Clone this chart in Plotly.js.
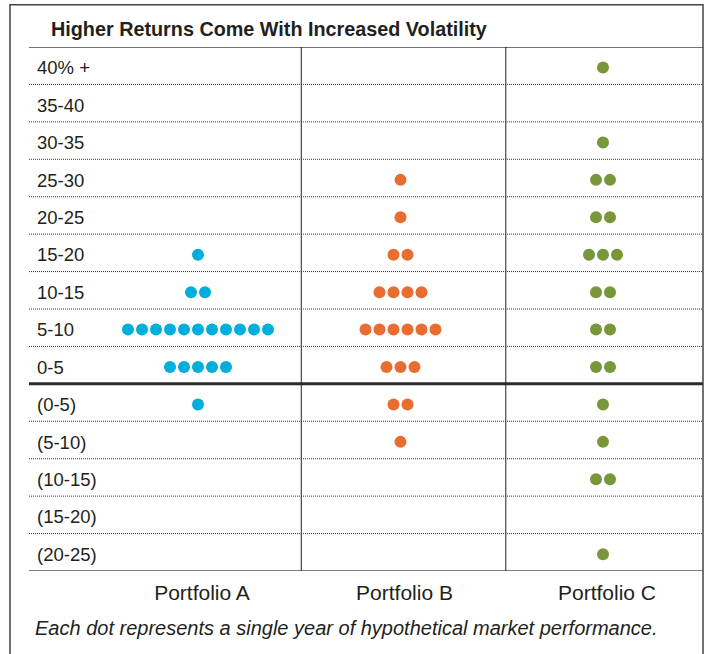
<!DOCTYPE html>
<html>
<head>
<meta charset="utf-8">
<script src="https://cdn.plot.ly/plotly-3.0.1.min.js"></script>
<style>html,body{margin:0;padding:0;background:#fff;}#chart{width:705px;height:654px;}</style>
</head>
<body>
<div id="chart"></div>
<script>
// ---- data ----
const rowLabels = ['40% +','35-40','30-35','25-30','20-25','15-20','10-15','5-10','0-5','(0-5)','(5-10)','(10-15)','(15-20)','(20-25)'];
const portfolios = ['Portfolio A','Portfolio B','Portfolio C'];
const countsA = [0,0,0,0,0,1,2,11,5,1,0,0,0,0];
const countsB = [0,0,0,1,1,2,4,6,3,2,1,0,0,0];
const countsC = [1,0,1,2,2,3,2,2,2,1,1,2,0,1];
const colors = ['#00AEDB','#E86D30','#78963A'];
const titleText = 'Higher Returns Come With Increased Volatility';
const footerText = 'Each dot represents a single year of hypothetical market performance.';

// ---- build ----
const FONT = 'Liberation Sans, Arial, Helvetica, sans-serif';
const allCounts = [countsA, countsB, countsC];
const unit = 202.5;          // pixels per column unit
const dotStep = 14/unit;     // spacing between dots, in column units
const dotDy = 0.05;
const traces = allCounts.map((counts, i) => {
  const xs = [], ys = [];
  counts.forEach((n, r) => {
    for (let k = 0; k < n; k++) {
      xs.push((i + 1) + (k - (n - 1) / 2) * dotStep);
      ys.push(r + dotDy);
    }
  });
  return {type:'scatter', mode:'markers', x:xs, y:ys, name:portfolios[i],
          marker:{size:12, color:colors[i], line:{width:0}}, hoverinfo:'skip', cliponaxis:false};
});

const shapes = [];
// row separators
for (let r = 0; r < rowLabels.length - 1; r++) {
  if (r === 8) {
    shapes.push({type:'line', xref:'paper', x0:0, x1:1, yref:'y', y0:r+0.5, y1:r+0.5,
                 line:{color:'#2b2b2b', width:3}});
  } else {
    shapes.push({type:'line', xref:'paper', x0:0, x1:1, yref:'y', y0:r+0.5, y1:r+0.5,
                 line:{color:'#333', width:1, dash:'1px,1px'}});
  }
}
// top (title underline) and bottom lines
shapes.push({type:'line', xref:'paper', x0:0, x1:1, yref:'y', y0:-0.5, y1:-0.5, line:{color:'#444', width:1.5}});
shapes.push({type:'line', xref:'paper', x0:0, x1:1, yref:'y', y0:13.5, y1:13.5, line:{color:'#555', width:1.5}});
// column dividers
[1.51, 2.52].forEach(xv => shapes.push({type:'line', xref:'x', x0:xv, x1:xv, yref:'y', y0:-0.5, y1:13.5,
  line:{color:'#222', width:1}}));
// outer frame
shapes.push({type:'rect', xref:'paper', x0:-0.0282, x1:1.0, yref:'paper', y0:-0.2, y1:1.0805,
  line:{color:'#444', width:1.5}, fillcolor:'rgba(0,0,0,0)'});

const annotations = rowLabels.map((t, r) => ({
  text:t, xref:'paper', x:0, xshift:6, xanchor:'left', yref:'y', y:r, yshift:-2, yanchor:'middle',
  showarrow:false, font:{family:FONT, size:18.5, color:'#231f20'}
}));
annotations.push({text:'<b>'+titleText+'</b>', xref:'paper', x:(49-29)/674, xanchor:'left',
  yref:'paper', y:(571-29)/524, yanchor:'middle', showarrow:false,
  font:{family:FONT, size:19.8, color:'#231f20'}});
annotations.push({text:'<i>'+footerText+'</i>', xref:'paper', x:(33-29)/674, xanchor:'left',
  yref:'paper', y:(571-628)/524, yanchor:'middle', showarrow:false,
  font:{family:FONT, size:20, color:'#231f20'}});

const layout = {
  width:705, height:654,
  margin:{l:29, r:2, t:47, b:83},
  paper_bgcolor:'#fff', plot_bgcolor:'#fff',
  showlegend:false,
  xaxis:{range:[1 - 169/unit, 1 + 505/unit], showgrid:false, zeroline:false, showline:false,
         tickvals:[1,2,3], ticktext:portfolios, ticks:'', ticklabelstandoff:7, ticklabelshift:4,
         tickfont:{family:FONT, size:21, color:'#231f20'}, fixedrange:true},
  yaxis:{range:[13.5, -0.5], showgrid:false, zeroline:false, showline:false,
         showticklabels:false, ticks:'', fixedrange:true},
  shapes:shapes,
  annotations:annotations
};
Plotly.newPlot('chart', traces, layout, {displayModeBar:false, staticPlot:true});
</script>
</body>
</html>
